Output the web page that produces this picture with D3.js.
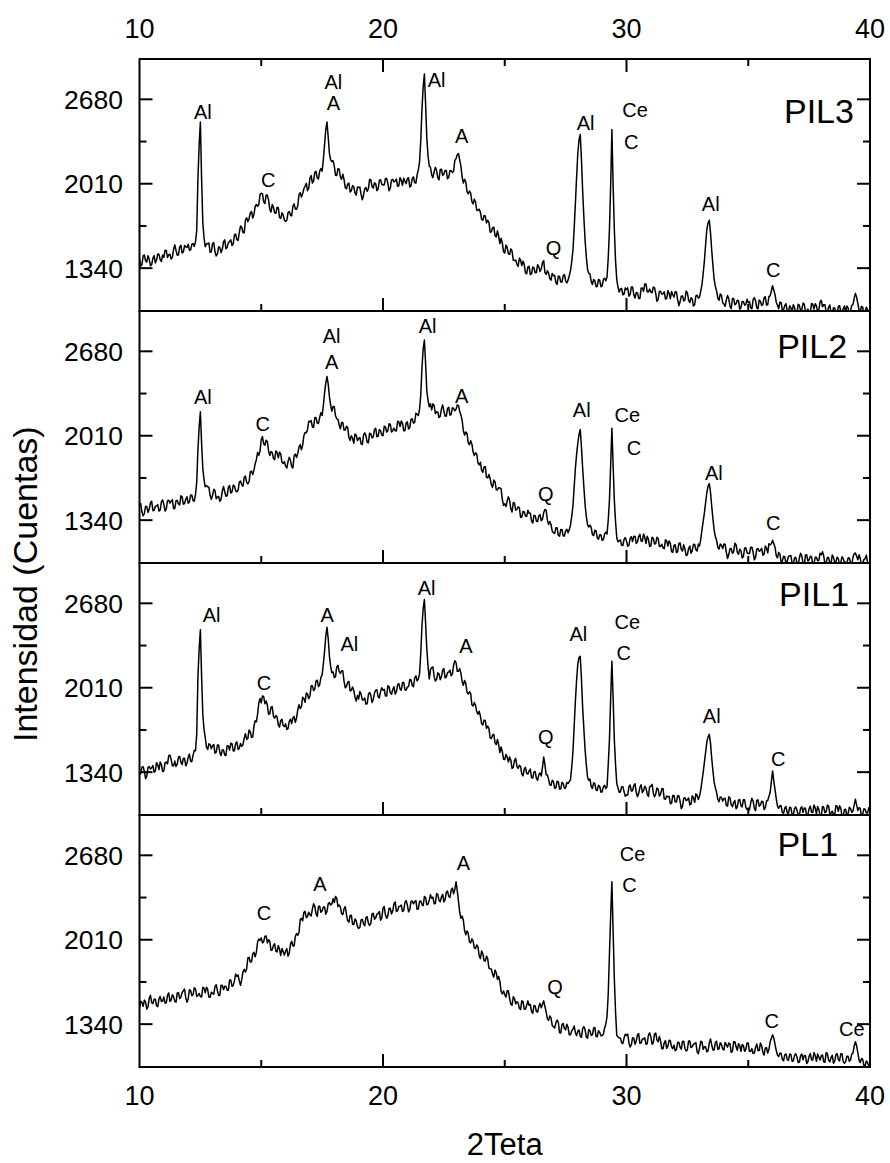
<!DOCTYPE html>
<html><head><meta charset="utf-8">
<script src="https://cdn.jsdelivr.net/npm/d3@7"></script>
<style>
body{margin:0;background:#fff}
text{font-family:"Liberation Sans",Arial,sans-serif;fill:#000}
</style>
</head><body>
<svg id="chart" width="890" height="1163"></svg>
<script>
// ---- data ----
// intensities read at 2Teta = 10.0, 10.1, ... 40.0 (main) and at 10.05, 10.15, ... 39.95 (mid)
const xStart = 10, xStep = 0.1;
const xTicksMajor = [10, 20, 30, 40];
const xTicksMinor = [15, 25, 35];
const yTicksMajor = [1340, 2010, 2680];
const yTicksMinor = [1675, 2345];
const panelNames = ["PIL3", "PIL2", "PIL1", "PL1"];

const pil3 = [
1415,1368,1445,1388,1410,1368,1440,1403,1450,1393,
1425,1481,1447,1413,1489,1480,1446,1522,1468,1509,
1530,1485,1535,1550,2050,2500,1700,1510,1535,1465,
1535,1470,1453,1505,1490,1565,1505,1550,1520,1605,
1565,1625,1665,1620,1740,1735,1790,1765,1845,1845,
1935,1865,1920,1880,1785,1825,1775,1820,1735,1762,
1710,1780,1760,1830,1810,1835,1940,1930,1990,1955,
2055,2015,2100,2055,2110,2110,2320,2500,2250,2185,
2150,2075,2125,2045,2045,1970,2015,1955,1985,1920,
1980,1925,1920,1980,1970,2040,1975,2010,1970,2042,
2000,2051,2013,1975,2045,2032,1990,2058,1997,2031,
2050,1985,2050,2020,2080,2180,2600,2880,2370,2150,
2080,2105,2115,2040,2125,2087,2115,2063,2115,2110,
2210,2250,2150,2015,2025,1930,1935,1850,1865,1800,
1785,1720,1755,1720,1625,1660,1600,1635,1535,1540,
1460,1505,1450,1475,1400,1370,1420,1360,1370,1295,
1355,1295,1342,1305,1350,1335,1400,1290,1300,1245,
1280,1225,1277,1230,1280,1240,1245,1320,1480,1850,
2250,2400,1950,1560,1330,1295,1210,1240,1195,1245,
1200,1260,1270,1650,2440,1650,1250,1150,1180,1135,
1170,1118,1191,1129,1147,1100,1180,1155,1215,1150,
1150,1190,1140,1093,1157,1138,1095,1162,1098,1130,
1152,1090,1073,1120,1090,1145,1067,1095,1052,1125,
1110,1210,1400,1650,1720,1480,1250,1160,1085,1125,
1055,1088,1097,1018,1100,1058,1082,1026,1075,1050,
1065,1025,1090,1082,1017,1078,1050,1113,1050,1120,
1200,1130,1045,1070,1005,1045,1000,1042,990,1030,
980,1045,1010,1055,1000,990,1060,1015,1040,1010,
1085,1050,990,1030,985,1025,992,1037,997,1017,
992,1025,1000,1050,1140,1060,995,1030,990,1010,
1000];
const pil3Mid = [
1357,1437,1397,1439,1359,1419,1382,1452,1407,1444,
1483,1424,1450,1426,1525,1443,1509,1460,1519,1505,
1483,1530,1513,1640,2320,2050,1580,1532,1540,1470,
1543,1437,1509,1463,1548,1495,1543,1565,1533,1610,
1560,1675,1623,1720,1708,1778,1738,1830,1830,1925,
1930,1853,1920,1808,1845,1780,1823,1743,1779,1721,
1720,1790,1755,1850,1808,1923,1905,1970,2013,1975,
2075,2033,2108,2048,2130,2200,2440,2380,2200,2193,
2078,2130,2065,2085,1978,2008,1945,1995,1938,1985,
1983,1883,1970,1950,2045,1988,2018,1955,2036,2006,
2001,2052,1954,2040,2024,2046,1994,2038,2054,2011,
2058,1993,2065,2015,2120,2350,2780,2640,2230,2140,
2058,2140,2058,2123,2076,2116,2049,2114,2098,2195,
2240,2200,2063,2045,1948,1953,1868,1888,1798,1808,
1728,1758,1698,1703,1628,1665,1588,1595,1578,1470,
1523,1453,1493,1403,1405,1355,1405,1395,1303,1350,
1290,1349,1304,1368,1313,1383,1305,1320,1258,1298,
1283,1211,1274,1230,1290,1223,1280,1390,1650,2060,
2360,2200,1740,1430,1300,1233,1250,1193,1250,1193,
1250,1240,1420,2000,2000,1400,1190,1175,1128,1183,
1184,1130,1190,1103,1144,1100,1183,1215,1153,1175,
1145,1185,1077,1155,1133,1152,1099,1140,1154,1111,
1151,1042,1117,1080,1158,1086,1106,1039,1119,1103,
1160,1300,1530,1700,1620,1360,1195,1103,1135,1065,
1037,1123,1038,1099,1049,1085,1014,1076,1048,1093,
1075,1018,1106,1025,1088,1044,1107,1047,1115,1160,
1165,1068,1018,1068,1010,1058,991,1026,1050,975,
1053,1003,1063,993,1015,985,1053,1058,995,1073,
1033,1050,990,1048,975,1024,975,1042,992,1040,
1039,973,1045,1100,1110,1008,1038,975,1030,990];

const pil2 = [
1460,1404,1393,1447,1426,1490,1419,1453,1412,1486,
1465,1429,1498,1492,1431,1495,1469,1533,1467,1506,
1475,1540,1495,1545,1900,2200,1750,1605,1605,1535,
1535,1575,1525,1490,1570,1565,1535,1615,1565,1610,
1565,1642,1620,1680,1640,1645,1730,1735,1820,1855,
1980,1945,1975,1890,1885,1830,1890,1835,1865,1790,
1770,1805,1815,1755,1865,1870,1940,1935,2035,2060,
2120,2080,2155,2110,2155,2170,2350,2480,2320,2205,
2240,2145,2095,2115,2055,2085,1995,2010,1950,2015,
1987,1945,2015,2010,1955,2025,2000,2070,2005,2050,
2010,2080,2050,2100,2050,2050,2125,2083,2110,2050,
2120,2075,2145,2115,2180,2220,2550,2770,2365,2240,
2215,2250,2200,2155,2223,2206,2165,2236,2180,2225,
2220,2250,2175,2050,2040,1955,1970,1880,1875,1795,
1800,1720,1765,1675,1670,1600,1645,1580,1595,1505,
1470,1495,1495,1405,1475,1425,1438,1365,1405,1370,
1395,1335,1378,1332,1375,1335,1400,1420,1305,1305,
1240,1280,1220,1265,1215,1255,1240,1300,1450,1750,
1950,2060,1750,1460,1305,1300,1225,1260,1200,1225,
1180,1230,1230,1500,2070,1500,1200,1175,1140,1188,
1175,1140,1210,1210,1155,1210,1175,1230,1155,1188,
1135,1195,1155,1195,1135,1120,1185,1135,1155,1085,
1145,1090,1160,1095,1113,1065,1135,1098,1147,1095,
1135,1265,1400,1560,1630,1450,1260,1180,1110,1140,
1150,1085,1067,1115,1088,1145,1069,1098,1052,1121,
1075,1125,1085,1045,1115,1100,1062,1135,1080,1145,
1180,1125,1040,1070,1015,1050,1013,1057,1001,1040,
1000,1040,1055,980,1065,1025,1050,995,1045,1020,
1065,1055,1005,1043,1001,1045,1009,1033,1002,1036,
1005,1040,1002,1045,1080,1025,1035,998,1036,1005,
1015];
const pil2Mid = [
1472,1374,1450,1402,1478,1415,1451,1463,1419,1501,
1412,1494,1475,1502,1433,1497,1461,1525,1472,1526,
1483,1538,1490,1640,2080,1950,1660,1615,1600,1505,
1585,1510,1528,1505,1608,1530,1600,1555,1618,1573,
1579,1651,1610,1690,1628,1723,1703,1788,1878,1888,
2003,1935,1963,1853,1878,1820,1878,1880,1798,1805,
1753,1840,1765,1850,1838,1920,1898,2010,2033,2125,
2130,2078,2153,2108,2193,2250,2430,2420,2250,2243,
2168,2140,2065,2115,2055,2075,1973,1990,2023,1971,
1996,1940,2033,1958,2030,1993,2060,2003,2058,2015,
2085,2040,2105,2040,2070,2048,2119,2127,2050,2110,
2063,2140,2110,2188,2170,2330,2700,2580,2290,2263,
2263,2185,2198,2164,2255,2166,2226,2173,2233,2208,
2255,2203,2133,2015,2028,1938,1945,1853,1865,1778,
1735,1763,1680,1703,1620,1658,1583,1598,1590,1458,
1448,1525,1430,1480,1420,1447,1362,1410,1373,1418,
1395,1317,1375,1329,1385,1348,1425,1342,1330,1253,
1235,1280,1213,1265,1215,1268,1265,1370,1600,1860,
2020,1920,1600,1370,1285,1283,1218,1255,1188,1223,
1185,1245,1340,1780,1780,1330,1168,1183,1139,1202,
1133,1195,1170,1213,1168,1228,1173,1203,1212,1132,
1205,1150,1205,1130,1148,1113,1175,1175,1090,1140,
1083,1155,1108,1144,1059,1115,1077,1148,1106,1150,
1190,1330,1480,1610,1560,1350,1210,1125,1150,1115,
1148,1036,1111,1077,1157,1087,1109,1040,1117,1083,
1075,1125,1025,1110,1093,1116,1069,1118,1153,1153,
1153,1058,1085,1008,1053,992,1050,1059,991,1045,
985,1078,998,1063,1015,1053,983,1045,1018,1078,
1090,990,1044,997,1063,1007,1046,983,1049,1006,
998,1041,984,1073,1053,1065,987,1027,1061,980];

const pil1 = [
1325,1380,1345,1310,1385,1375,1340,1415,1360,1400,
1350,1420,1470,1440,1390,1385,1460,1420,1450,1390,
1460,1425,1475,1510,2100,2470,1800,1615,1520,1560,
1550,1490,1555,1495,1517,1475,1550,1515,1565,1510,
1580,1530,1545,1610,1600,1675,1615,1705,1740,1890,
1890,1940,1905,1800,1855,1785,1790,1715,1750,1710,
1723,1685,1760,1770,1735,1835,1845,1935,1895,1960,
1945,2025,2000,2070,2035,2110,2300,2490,2260,2130,
2090,2175,2140,2145,2060,2020,2060,1990,1990,1905,
1920,1960,1915,1880,1955,1950,1915,1990,1938,1980,
1990,1945,2025,1970,1995,1960,2035,2000,2050,1995,
2015,2075,2030,2085,2065,2120,2500,2710,2315,2080,
2170,2100,2075,2120,2098,2162,2095,2135,2105,2190,
2210,2140,2125,2030,2045,1960,1965,1865,1870,1800,
1785,1715,1750,1705,1610,1635,1575,1600,1495,1505,
1440,1460,1460,1370,1435,1385,1395,1325,1365,1330,
1350,1297,1340,1290,1320,1310,1460,1320,1285,1235,
1265,1218,1265,1207,1250,1215,1250,1280,1500,1900,
2200,2260,1850,1515,1300,1285,1210,1250,1195,1227,
1185,1235,1225,1600,2220,1600,1250,1180,1225,1185,
1160,1225,1190,1235,1180,1170,1240,1193,1215,1147,
1230,1175,1165,1205,1165,1210,1125,1145,1090,1155,
1105,1153,1111,1069,1137,1120,1080,1152,1100,1155,
1150,1270,1420,1580,1640,1450,1260,1180,1105,1140,
1130,1075,1145,1082,1099,1050,1118,1077,1121,1060,
1055,1095,1110,1035,1120,1080,1108,1057,1115,1180,
1350,1200,1070,1075,1020,1055,1018,1061,1005,1050,
1040,1000,1065,1055,990,1050,1020,1080,1010,1045,
995,1060,1025,1070,1015,1005,1075,1030,1055,990,
1045,1010,1052,1030,1125,1035,1052,1005,1045,1015,
1030];
const pil1Mid = [
1328,1383,1288,1378,1365,1393,1348,1398,1420,1345,
1415,1405,1475,1390,1428,1403,1465,1400,1450,1410,
1483,1425,1513,1640,2320,2100,1680,1538,1565,1525,
1560,1498,1555,1471,1516,1473,1548,1570,1508,1570,
1520,1568,1558,1645,1608,1660,1620,1748,1800,1925,
1945,1883,1873,1803,1860,1768,1778,1698,1760,1702,
1679,1743,1725,1783,1770,1875,1860,1925,1968,1923,
2025,1988,2065,2018,2093,2200,2420,2400,2180,2135,
2098,2188,2123,2143,2010,2055,1985,2015,1933,1948,
1980,1913,1928,1883,1973,1893,1968,1994,1929,2010,
1998,1945,2018,1958,2018,1978,2043,1990,2053,1990,
2020,2073,2018,2105,2078,2280,2640,2520,2180,2155,
2175,2063,2128,2074,2150,2089,2130,2150,2118,2225,
2140,2163,2058,2068,1973,1978,1875,1893,1820,1823,
1725,1753,1688,1688,1608,1640,1558,1558,1540,1443,
1480,1420,1435,1378,1450,1370,1385,1310,1378,1325,
1364,1294,1345,1275,1335,1380,1400,1318,1240,1275,
1212,1267,1206,1259,1213,1258,1265,1380,1700,2070,
2250,2080,1680,1400,1275,1228,1255,1198,1236,1181,
1225,1210,1400,1930,1930,1400,1215,1183,1225,1148,
1158,1238,1193,1248,1145,1220,1177,1229,1166,1224,
1243,1145,1215,1150,1208,1128,1150,1148,1093,1155,
1104,1152,1050,1133,1114,1135,1086,1136,1168,1123,
1200,1340,1500,1620,1570,1350,1215,1123,1143,1110,
1133,1070,1134,1066,1115,1064,1123,1064,1121,1043,
1040,1133,1053,1118,1070,1109,1043,1111,1148,1265,
1270,1130,1053,1073,1013,1067,1010,1058,998,1065,
995,1053,1020,1053,1005,1070,1020,1055,1068,990,
1068,1018,1078,1008,1030,1000,1068,1073,993,1043,
993,1061,1021,1078,1080,1059,989,1050,1015,1058];

const pl1 = [
1470,1513,1531,1459,1547,1510,1538,1487,1541,1520,
1555,1509,1588,1532,1556,1515,1590,1555,1605,1550,
1540,1607,1574,1621,1568,1560,1632,1589,1616,1553,
1585,1640,1605,1570,1647,1640,1610,1690,1640,1685,
1720,1680,1695,1775,1780,1870,1835,1910,1910,2015,
2025,1995,2040,2010,1925,1965,1920,1965,1885,1915,
1920,1880,1975,1960,2035,2045,2170,2160,2235,2195,
2210,2255,2275,2195,2275,2240,2270,2235,2305,2295,
2305,2340,2285,2215,2255,2210,2150,2205,2130,2160,
2100,2168,2136,2185,2140,2140,2220,2185,2220,2165,
2260,2208,2201,2259,2240,2310,2240,2275,2234,2307,
2285,2249,2318,2312,2251,2315,2289,2353,2287,2326,
2340,2296,2377,2323,2349,2310,2387,2354,2405,2375,
2470,2315,2180,2165,2050,2060,1985,2000,1940,1955,
1860,1900,1840,1860,1780,1735,1770,1695,1680,1580,
1575,1605,1545,1490,1545,1518,1466,1525,1460,1490,
1490,1441,1488,1440,1480,1470,1525,1435,1370,1390,
1320,1350,1355,1270,1345,1295,1315,1255,1300,1272,
1285,1243,1306,1295,1229,1287,1255,1313,1241,1275,
1250,1310,1400,1900,2470,1700,1250,1230,1192,1230,
1250,1191,1177,1228,1204,1265,1191,1223,1180,1252,
1240,1192,1270,1200,1205,1145,1210,1166,1208,1146,
1130,1194,1158,1203,1147,1137,1206,1161,1185,1120,
1150,1200,1160,1120,1190,1175,1135,1205,1145,1180,
1135,1175,1190,1115,1200,1160,1185,1125,1170,1140,
1190,1125,1107,1155,1130,1190,1117,1150,1110,1200,
1255,1180,1095,1110,1060,1097,1060,1103,1046,1090,
1080,1039,1103,1092,1027,1086,1056,1115,1045,1080,
1090,1040,1115,1055,1075,1030,1100,1060,1105,1045,
1043,1086,1055,1110,1200,1115,1035,1060,1010,1035,
1020];
const pl1Mid = [
1522,1482,1515,1478,1569,1504,1538,1479,1561,1523,
1507,1569,1520,1574,1521,1588,1543,1590,1618,1515,
1614,1566,1628,1560,1584,1556,1626,1633,1555,1594,
1578,1653,1568,1649,1614,1640,1610,1690,1648,1738,
1730,1648,1755,1753,1865,1833,1898,1875,1993,2005,
1985,2038,1985,1998,1930,1978,1913,1935,1940,1888,
1940,1903,1998,1963,2060,2068,2180,2228,2185,2228,
2198,2295,2215,2275,2228,2270,2213,2295,2285,2335,
2353,2273,2270,2210,2273,2160,2203,2133,2175,2115,
2109,2172,2121,2193,2125,2215,2173,2213,2233,2183,
2274,2180,2260,2215,2295,2235,2273,2285,2241,2321,
2232,2314,2295,2322,2253,2317,2281,2345,2292,2368,
2348,2297,2370,2311,2370,2329,2396,2345,2420,2408,
2400,2228,2198,2083,2080,1993,2018,1945,1968,1883,
1920,1845,1880,1785,1778,1713,1748,1718,1600,1603,
1555,1605,1498,1558,1502,1507,1456,1518,1460,1525,
1496,1425,1484,1435,1505,1498,1480,1383,1405,1330,
1310,1373,1273,1338,1305,1340,1255,1288,1326,1249,
1294,1235,1321,1237,1298,1251,1309,1242,1288,1248,
1260,1340,1580,2200,2080,1440,1240,1231,1186,1260,
1261,1159,1233,1181,1255,1188,1222,1232,1186,1271,
1181,1261,1215,1243,1145,1193,1148,1212,1162,1173,
1137,1196,1141,1205,1127,1207,1154,1183,1193,1105,
1205,1140,1160,1130,1223,1135,1195,1140,1193,1143,
1195,1158,1183,1123,1200,1133,1170,1178,1125,1190,
1123,1146,1111,1183,1130,1169,1094,1155,1140,1228,
1230,1130,1083,1110,1049,1104,1052,1100,1048,1105,
1035,1091,1058,1090,1042,1106,1056,1090,1103,1055,
1095,1038,1105,1040,1093,1045,1105,1048,1105,1029,
1085,1046,1103,1165,1170,1055,1068,1010,1048,1008];

// peak annotations: [text, 2Teta, intensity of label baseline]
const annPIL3 = [["Al",12.6,2524],["C",15.29,1986],["Al",17.96,2759],["A",17.96,2595],["Al",22.2,2775],["A",23.23,2336],["Q",27.0,1444],["Al",28.32,2436],["Ce",30.35,2537],["C",30.19,2283],["Al",33.46,1796],["C",36.03,1267]];
const annPIL2 = [["Al",12.6,2265],["C",15.06,2045],["Al",17.89,2747],["A",17.89,2540],["Al",21.83,2826],["A",23.23,2270],["Q",26.69,1489],["Al",28.16,2159],["Ce",30.03,2117],["C",30.31,1860],["Al",33.59,1662],["C",36.03,1265]];
const annPIL1 = [["Al",12.96,2535],["C",15.11,1992],["A",17.71,2532],["Al",18.62,2301],["Al",21.79,2743],["A",23.41,2289],["Q",26.69,1561],["Al",28.02,2381],["Ce",30.03,2479],["C",29.89,2230],["Al",33.5,1733],["C",36.23,1389]];
const annPL1 = [["C",15.11,2170],["A",17.41,2394],["A",23.3,2566],["Q",27.06,1582],["Ce",30.25,2632],["C",30.12,2386],["C",35.96,1310],["Ce",39.25,1249]];
// sample name position [2Teta at text end, intensity at baseline]
const namePos = [[39.34,2492],[39.06,2625],[39.14,2656],[38.69,2675]];

const mainList = [pil3, pil2, pil1, pl1];
const midList = [pil3Mid, pil2Mid, pil1Mid, pl1Mid];
const annList = [annPIL3, annPIL2, annPIL1, annPL1];

// merge the two read-outs of each scan into one ordered table
function scanTable(main, mid) {
  const rows = [];
  main.forEach((v, k) => {
    rows.push({x: xStart + k * xStep, v: v});
    if (k < mid.length) rows.push({x: xStart + (k + 0.5) * xStep, v: mid[k]});
  });
  return rows;
}

// ---- layout ----
const svg = d3.select("#chart");
const left = 139.5, right = 870, top0 = 59, panelH = 252;
const x = d3.scaleLinear().domain([10, 40]).range([left, right]);
const yDomain = [1000, 3000];

function tickLines(g, vals, len, orient, scaleFn, pos) {
  vals.forEach(v => {
    const p = scaleFn(v);
    if (orient === "left") g.append("line").attr("x1", left).attr("x2", left + len).attr("y1", p).attr("y2", p);
    if (orient === "right") g.append("line").attr("x1", right).attr("x2", right - len).attr("y1", p).attr("y2", p);
    if (orient === "bottom") g.append("line").attr("x1", p).attr("x2", p).attr("y1", pos).attr("y2", pos - len);
    if (orient === "top") g.append("line").attr("x1", p).attr("x2", p).attr("y1", pos).attr("y2", pos + len);
  });
}

mainList.forEach((main, i) => {
  const t = top0 + i * panelH, b = t + panelH;
  const y = d3.scaleLinear().domain(yDomain).range([b, t]);
  const g = svg.append("g");
  const cid = "clip" + i;
  svg.append("clipPath").attr("id", cid).append("rect")
    .attr("x", left).attr("y", t).attr("width", right - left).attr("height", panelH);

  const line = d3.line().x(d => x(d.x)).y(d => y(d.v));
  g.append("path").datum(scanTable(main, midList[i])).attr("clip-path", `url(#${cid})`)
    .attr("d", line).attr("fill", "none").attr("stroke", "#000").attr("stroke-width", 1.5)
    .attr("stroke-linejoin", "round");

  const tg = g.append("g").attr("stroke", "#000").attr("stroke-width", 2);
  tickLines(tg, yTicksMajor, 13, "left", y);
  tickLines(tg, yTicksMinor, 7, "left", y);
  tickLines(tg, yTicksMajor, 13, "right", y);
  tickLines(tg, yTicksMinor, 7, "right", y);
  tickLines(tg, xTicksMajor.filter(v => v > 10 && v < 40), 13, "bottom", x, b);
  tickLines(tg, xTicksMinor, 7, "bottom", x, b);
  if (i === 0) {
    tickLines(tg, xTicksMajor.filter(v => v > 10 && v < 40), 13, "top", x, t);
    tickLines(tg, xTicksMinor, 7, "top", x, t);
  }

  g.append("rect").attr("x", left).attr("y", t).attr("width", right - left).attr("height", panelH)
    .attr("fill", "none").attr("stroke", "#000").attr("stroke-width", 2);

  g.selectAll("text.ytl").data(yTicksMajor).join("text").attr("class", "ytl")
    .attr("x", 123).attr("y", d => y(d)).attr("dy", "0.36em")
    .attr("text-anchor", "end").style("font-size", "26.5px").text(d => d);

  g.selectAll("text.ann").data(annList[i]).join("text").attr("class", "ann")
    .attr("x", d => x(d[1])).attr("y", d => y(d[2]))
    .attr("text-anchor", "middle").style("font-size", "20px").text(d => d[0]);

  g.append("text").attr("x", x(namePos[i][0])).attr("y", y(namePos[i][1]))
    .attr("text-anchor", "end").style("font-size", "34px").text(panelNames[i]);
});

const bottom = top0 + 4 * panelH;
svg.selectAll("text.xtt").data(xTicksMajor).join("text").attr("class", "xtt")
  .attr("x", d => x(d)).attr("y", 38).attr("text-anchor", "middle").style("font-size", "27px").text(d => d);
svg.selectAll("text.xtb").data(xTicksMajor).join("text").attr("class", "xtb")
  .attr("x", d => x(d)).attr("y", bottom + 38).attr("text-anchor", "middle").style("font-size", "27px").text(d => d);

svg.append("text").attr("x", (left + right) / 2).attr("y", 1155)
  .attr("text-anchor", "middle").style("font-size", "31px").text("2Teta");
svg.append("text").attr("transform", "translate(37,742) rotate(-90)")
  .attr("text-anchor", "start").style("font-size", "34px").text("Intensidad (Cuentas)");
</script>
</body></html>
